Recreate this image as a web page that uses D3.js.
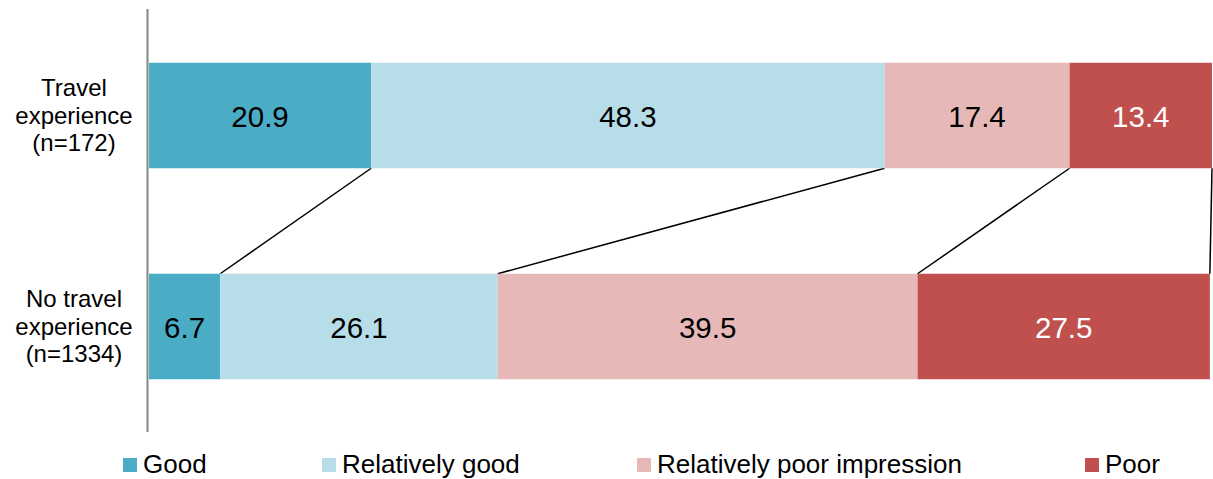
<!DOCTYPE html>
<html><head><meta charset="utf-8">
<script src="https://cdn.jsdelivr.net/npm/d3@7"></script>
<style>
html,body{margin:0;padding:0;background:#fff;}
svg{display:block;font-family:"Liberation Sans",Arial,sans-serif;}
</style></head>
<body>
<svg id="chart" width="1213" height="479"></svg>
<script>
const groups = [["Travel","experience","(n=172)"],["No travel","experience","(n=1334)"]];
const groupKeys = ["travel","notravel"];
const series = ["Good","Relatively good","Relatively poor impression","Poor"];
const travelValues = [20.9, 48.3, 17.4, 13.4];
const noTravelValues = [6.7, 26.1, 39.5, 27.5];
const colors = ["#4BACC6","#B7DEE8","#E6B9B8","#C0504D"];
const labelColors = ["#000","#000","#000","#fff"];

const svg = d3.select("#chart");
const x = d3.scaleLinear().domain([0,100]).range([149,1212]);
const y = d3.scaleBand().domain(groupKeys).range([10,432]).paddingInner(0.5).paddingOuter(0.25);

const rows = [travelValues, noTravelValues].map((vals,gi)=>{
  let c=0;
  return vals.map((v,i)=>{const s={g:groupKeys[gi],i,v,x0:c,x1:c+v};c+=v;return s;});
});

// connectors
const conn = d3.range(series.length).map(i=>({a:rows[0][i].x1,b:rows[1][i].x1}));
svg.append("g").selectAll("line").data(conn).join("line")
  .attr("x1",d=>x(Math.min(d.a,100))).attr("y1",y("travel")+y.bandwidth())
  .attr("x2",d=>x(Math.min(d.b,100))).attr("y2",y("notravel"))
  .attr("stroke","#000").attr("stroke-width",1.5);

const g = svg.append("g");
rows.forEach(row=>{
  g.selectAll(null).data(row).join("rect")
    .attr("x",d=>x(d.x0)).attr("y",d=>y(d.g))
    .attr("width",d=>x(d.x1)-x(d.x0)).attr("height",y.bandwidth())
    .attr("fill",d=>colors[d.i]);
  g.selectAll(null).data(row).join("text")
    .attr("x",d=>(x(d.x0)+x(d.x1))/2).attr("y",d=>y(d.g)+y.bandwidth()/2)
    .attr("dy","0.38em").attr("text-anchor","middle")
    .attr("font-size",29.5).attr("fill",d=>labelColors[d.i])
    .text(d=>d3.format(".1f")(d.v));
});

// axis line
svg.append("line").attr("x1",147.5).attr("x2",147.5).attr("y1",9).attr("y2",432)
  .attr("stroke","#868686").attr("stroke-width",2);

// category labels
groups.forEach((lines,gi)=>{
  const cy = y(groupKeys[gi])+y.bandwidth()/2;
  const t = svg.append("text").attr("text-anchor","middle").attr("font-size",24).attr("fill","#000");
  lines.forEach((l,li)=>{
    t.append("tspan").attr("x",74).attr("y",cy+(li-1)*27.5).attr("dy","0.35em").text(l);
  });
});

// legend
const legendX = [123,322,637,1085];
const lg = svg.append("g").selectAll("g").data(series).join("g")
  .attr("transform",(d,i)=>`translate(${legendX[i]},458)`);
lg.append("rect").attr("width",14).attr("height",14).attr("fill",(d,i)=>colors[i]);
lg.append("text").attr("x",20).attr("y",15).attr("font-size",26).attr("fill","#000").text(d=>d);
</script>
</body></html>
